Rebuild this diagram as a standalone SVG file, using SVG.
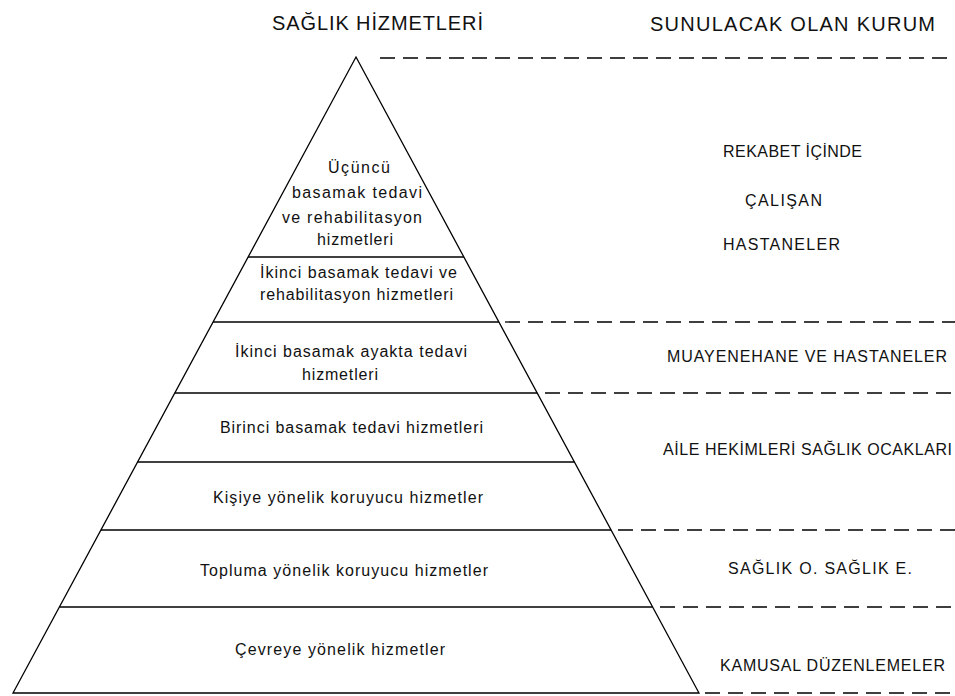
<svg xmlns="http://www.w3.org/2000/svg" width="955" height="696" viewBox="0 0 955 696">
  <style>
    .bg { fill: #ffffff; }
    .edge { fill: none; stroke: #000; stroke-width: 1.3; }
    .tier { stroke: #000; stroke-width: 1.3; }
    .dash { stroke: #000; stroke-width: 1.3; stroke-dasharray: 15 8; }
    text { font-family: "Liberation Sans", Arial, sans-serif; fill: #111; }
    .t { font-size: 16px; }
    .r { font-size: 16px; }
    .h { font-size: 20px; }
  </style>
  <rect class="bg" x="0" y="0" width="955" height="696"/>

  <!-- column headings -->
  <g id="headings">
    <text class="h" x="272" y="30" textLength="211" lengthAdjust="spacing">SAĞLIK HİZMETLERİ</text>
    <text class="h" x="650" y="31" textLength="285" lengthAdjust="spacing">SUNULACAK OLAN KURUM</text>
  </g>

  <!-- pyramid outline -->
  <g id="pyramid">
    <polygon class="edge" points="356,57 699,693 13,693"/>
  </g>

  <!-- tiers, from apex to base -->
  <g id="tier-tertiary">
    <text class="t" x="328" y="173" textLength="62" lengthAdjust="spacing">Üçüncü</text>
    <text class="t" x="292" y="198" textLength="130" lengthAdjust="spacing">basamak tedavi</text>
    <text class="t" x="282" y="223" textLength="140" lengthAdjust="spacing">ve rehabilitasyon</text>
    <text class="t" x="317" y="245" textLength="76" lengthAdjust="spacing">hizmetleri</text>
  </g>
  <g id="tier-secondary-inpatient">
    <line class="tier" x1="248.1" y1="257" x2="463.9" y2="257"/>
    <text class="t" x="260" y="278" textLength="197" lengthAdjust="spacing">İkinci basamak tedavi ve</text>
    <text class="t" x="260" y="300" textLength="193" lengthAdjust="spacing">rehabilitasyon hizmetleri</text>
  </g>
  <g id="tier-secondary-outpatient">
    <line class="tier" x1="213.1" y1="322" x2="498.9" y2="322"/>
    <text class="t" x="235" y="357" textLength="232" lengthAdjust="spacing">İkinci basamak ayakta tedavi</text>
    <text class="t" x="302" y="380" textLength="76" lengthAdjust="spacing">hizmetleri</text>
  </g>
  <g id="tier-primary">
    <line class="tier" x1="174.8" y1="393" x2="537.2" y2="393"/>
    <text class="t" x="220" y="433" textLength="263" lengthAdjust="spacing">Birinci basamak tedavi hizmetleri</text>
  </g>
  <g id="tier-personal-prevention">
    <line class="tier" x1="137.6" y1="462" x2="574.4" y2="462"/>
    <text class="t" x="213" y="503" textLength="270" lengthAdjust="spacing">Kişiye yönelik koruyucu hizmetler</text>
  </g>
  <g id="tier-community-prevention">
    <line class="tier" x1="100.9" y1="530" x2="611.1" y2="530"/>
    <text class="t" x="200" y="576" textLength="288" lengthAdjust="spacing">Topluma yönelik koruyucu hizmetler</text>
  </g>
  <g id="tier-environment">
    <line class="tier" x1="59.4" y1="607" x2="652.6" y2="607"/>
    <text class="t" x="235" y="655" textLength="210" lengthAdjust="spacing">Çevreye yönelik hizmetler</text>
  </g>

  <!-- dashed guides extending tier boundaries to the provider column -->
  <g id="connectors">
    <line class="dash" x1="380" y1="58" x2="955" y2="58"/>
    <line class="dash" x1="505" y1="322" x2="955" y2="322"/>
    <line class="dash" x1="545" y1="393" x2="955" y2="393"/>
    <line class="dash" x1="618" y1="530" x2="955" y2="530"/>
    <line class="dash" x1="660" y1="607" x2="955" y2="607"/>
    <line class="dash" x1="705" y1="693" x2="955" y2="693"/>
  </g>

  <!-- providers -->
  <g id="provider-hospitals">
    <text class="r" x="723" y="157" textLength="139" lengthAdjust="spacing">REKABET İÇİNDE</text>
    <text class="r" x="745" y="206" textLength="77" lengthAdjust="spacing">ÇALIŞAN</text>
    <text class="r" x="723" y="250" textLength="117" lengthAdjust="spacing">HASTANELER</text>
  </g>
  <g id="provider-clinics">
    <text class="r" x="667" y="362" textLength="280" lengthAdjust="spacing">MUAYENEHANE VE HASTANELER</text>
  </g>
  <g id="provider-family">
    <text class="r" x="663" y="455" textLength="289" lengthAdjust="spacing">AİLE HEKİMLERİ SAĞLIK OCAKLARI</text>
  </g>
  <g id="provider-health-centers">
    <text class="r" x="728" y="574" textLength="184" lengthAdjust="spacing">SAĞLIK O.  SAĞLIK E.</text>
  </g>
  <g id="provider-public">
    <text class="r" x="720" y="671" textLength="225" lengthAdjust="spacing">KAMUSAL DÜZENLEMELER</text>
  </g>
</svg>
